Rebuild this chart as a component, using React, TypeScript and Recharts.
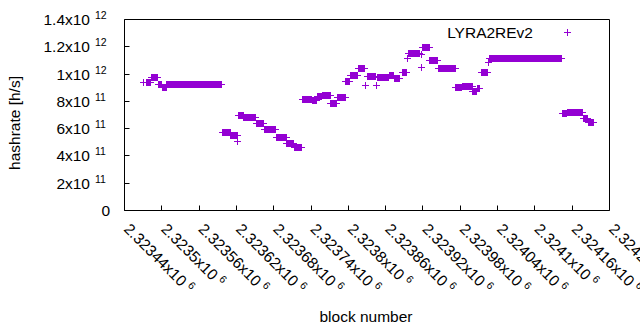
import { ComposedChart, Legend, Line, Scatter, XAxis, YAxis } from "recharts";

const COLOR = "#9400d3";
const FONT = "'Liberation Sans', Arial, Helvetica, sans-serif";

// x axis: block numbers
const xTicks = [
  2323440, 2323500, 2323560, 2323620, 2323680, 2323740, 2323800, 2323860,
  2323920, 2323980, 2324040, 2324100, 2324160, 2324220,
];
const xTickLabels = [
  "2.32344", "2.3235", "2.32356", "2.32362", "2.32368", "2.32374", "2.3238",
  "2.32386", "2.32392", "2.32398", "2.32404", "2.3241", "2.32416", "2.32422",
];

// y axis: hashrate
const yTicks = [0, 2e11, 4e11, 6e11, 8e11, 1e12, 1.2e12, 1.4e12];
const yTickMantissa = ["0", "2x10", "4x10", "6x10", "8x10", "1x10", "1.2x10", "1.4x10"];
const yTickExp = ["", "11", "11", "11", "11", "12", "12", "12"];

// runs of blocks with the same estimated hashrate: [first block, last block, h/s]
const runs: [number, number, number][] = [
  [2323471, 2323471, 936e9],
  [2323475, 2323482, 940e9],
  [2323483, 2323493, 978e9],
  [2323494, 2323500, 924e9],
  [2323501, 2323507, 903e9],
  [2323508, 2323596, 926e9],
  [2323597, 2323610, 573e9],
  [2323611, 2323621, 551e9],
  [2323622, 2323622, 506e9],
  [2323623, 2323631, 694e9],
  [2323632, 2323651, 681e9],
  [2323652, 2323664, 640e9],
  [2323665, 2323683, 596e9],
  [2323684, 2323700, 538e9],
  [2323701, 2323712, 491e9],
  [2323713, 2323725, 465e9],
  [2323726, 2323741, 812e9],
  [2323742, 2323749, 808e9],
  [2323750, 2323757, 833e9],
  [2323758, 2323771, 845e9],
  [2323772, 2323781, 782e9],
  [2323782, 2323795, 826e9],
  [2323796, 2323802, 943e9],
  [2323803, 2323815, 990e9],
  [2323816, 2323826, 1038e9],
  [2323827, 2323827, 917e9],
  [2323831, 2323844, 979e9],
  [2323845, 2323845, 917e9],
  [2323847, 2323865, 972e9],
  [2323866, 2323873, 990e9],
  [2323874, 2323882, 968e9],
  [2323887, 2323894, 1012e9],
  [2323895, 2323895, 1114e9],
  [2323896, 2323914, 1154e9],
  [2323918, 2323918, 1144e9],
  [2323918, 2323918, 1050e9],
  [2323919, 2323930, 1198e9],
  [2323931, 2323943, 1103e9],
  [2323945, 2323972, 1038e9],
  [2323973, 2323982, 899e9],
  [2323983, 2323999, 906e9],
  [2324000, 2324006, 873e9],
  [2324007, 2324011, 891e9],
  [2324014, 2324024, 1008e9],
  [2324025, 2324025, 1085e9],
  [2324027, 2324143, 1114e9],
  [2324144, 2324151, 709e9],
  [2324152, 2324177, 717e9],
  [2324178, 2324185, 676e9],
  [2324186, 2324194, 647e9],
];

// thick bars between run ends, broken by nulls
const barData = runs.flatMap(([a, b, v]) => [
  { b: a, v },
  { b: b, v },
  { b: b, v: null },
]);
// crosses at each run end
const pointData = runs.flatMap(([a, b, v]) =>
  a === b ? [{ b: a, v }] : [{ b: a, v }, { b: b, v }]
);

const crisp = (n: number) => Math.round(n - 0.5) + 0.5;

function crossPath(cx: number, cy: number) {
  const x = crisp(cx);
  const y = crisp(cy);
  return `M${x - 3.5},${y}H${x + 3.5}M${x},${y - 3.5}V${y + 3.5}`;
}

// eslint-disable-next-line @typescript-eslint/no-explicit-any
function Cross({ cx, cy }: any) {
  if (cx == null || cy == null) return null;
  return <path d={crossPath(cx, cy)} stroke={COLOR} strokeWidth={1} fill="none" />;
}

// eslint-disable-next-line @typescript-eslint/no-explicit-any
function BottomTick({ x, y, payload }: any) {
  const i = xTicks.indexOf(payload.value);
  const px = crisp(x);
  return (
    <g>
      <line x1={px} x2={px} y1={y} y2={y - 5} stroke="#000" />
      <g transform={`translate(${x - 1.5},${y + 19.5}) rotate(45)`}>
        <text x={0} y={0} fontSize={15.5} fontFamily={FONT} fill="#000">
          {xTickLabels[i]}x10
          <tspan dx={4} dy={-6} fontSize={10.5}>
            6
          </tspan>
        </text>
      </g>
    </g>
  );
}

// eslint-disable-next-line @typescript-eslint/no-explicit-any
function TopTick({ x, y }: any) {
  const px = crisp(x);
  return <line x1={px} x2={px} y1={y} y2={y + 5} stroke="#000" />;
}

// eslint-disable-next-line @typescript-eslint/no-explicit-any
function LeftTick({ x, y, payload }: any) {
  const i = yTicks.indexOf(payload.value);
  const py = crisp(y);
  return (
    <g>
      <line x1={x} x2={x + 5} y1={py} y2={py} stroke="#000" />
      {yTickExp[i] ? (
        <>
          <text x={x - 34.5} y={y + 5.5} textAnchor="end" fontSize={15.5} fontFamily={FONT} fill="#000">
            {yTickMantissa[i]}
          </text>
          <text x={x - 29.5} y={y - 0.5} textAnchor="start" fontSize={10.5} fontFamily={FONT} fill="#000">
            {yTickExp[i]}
          </text>
        </>
      ) : (
        <text x={x - 14.5} y={y + 5.5} textAnchor="end" fontSize={15.5} fontFamily={FONT} fill="#000">
          {yTickMantissa[i]}
        </text>
      )}
    </g>
  );
}

// eslint-disable-next-line @typescript-eslint/no-explicit-any
function RightTick({ x, y }: any) {
  const py = crisp(y);
  return <line x1={x} x2={x - 5} y1={py} y2={py} stroke="#000" />;
}

function KeyBox() {
  return (
    <svg width={150} height={26}>
      <text x={103} y={18} textAnchor="end" fontSize={15.5} fontFamily={FONT} fill="#000">
        LYRA2REv2
      </text>
      <path d={crossPath(137, 12.5)} stroke={COLOR} strokeWidth={1} fill="none" />
    </svg>
  );
}

const axisLine = { stroke: "#000", strokeWidth: 1 };

export default function App() {
  return (
    <div style={{ position: "absolute", left: 0, top: 0, background: "#fff" }}>
      <ComposedChart width={640} height={330} margin={{ top: 0, right: 0, bottom: 0, left: 0 }}>
        <XAxis
          dataKey="b"
          type="number"
          domain={[2323440, 2324220]}
          ticks={xTicks}
          interval={0}
          height={119.5}
          tickSize={0}
          tickMargin={0}
          tickLine={false}
          axisLine={axisLine}
          tick={<BottomTick />}
          label={{
            content: () => (
              <text x={366} y={321.5} textAnchor="middle" fontSize={15.5} fontFamily={FONT} fill="#000">
                block number
              </text>
            ),
          }}
        />
        <XAxis
          xAxisId="top"
          orientation="top"
          dataKey="b"
          type="number"
          domain={[2323440, 2324220]}
          ticks={xTicks}
          interval={0}
          height={19.5}
          tickSize={0}
          tickMargin={0}
          tickLine={false}
          axisLine={axisLine}
          tick={<TopTick />}
        />
        <YAxis
          dataKey="v"
          type="number"
          domain={[0, 1.4e12]}
          ticks={yTicks}
          interval={0}
          width={124.5}
          tickSize={0}
          tickMargin={0}
          tickLine={false}
          axisLine={axisLine}
          tick={<LeftTick />}
          label={{
            content: () => (
              <text
                x={20}
                y={123}
                transform="rotate(-90 20 123)"
                textAnchor="middle"
                fontSize={15.5}
                fontFamily={FONT}
                fill="#000"
              >
                hashrate [h/s]
              </text>
            ),
          }}
        />
        <YAxis
          yAxisId="right"
          orientation="right"
          type="number"
          domain={[0, 1.4e12]}
          ticks={yTicks}
          interval={0}
          width={30.5}
          tickSize={0}
          tickMargin={0}
          tickLine={false}
          axisLine={axisLine}
          tick={<RightTick />}
        />
        <Legend
          layout="horizontal"
          verticalAlign="middle"
          align="center"
          wrapperStyle={{ position: "absolute", left: 430, top: 20, width: 150, height: 26 }}
          content={() => <KeyBox />}
        />
        <Line
          data={barData}
          dataKey="v"
          type="linear"
          stroke={COLOR}
          strokeWidth={7}
          strokeLinecap="butt"
          shapeRendering="crispEdges"
          dot={false}
          activeDot={false}
          connectNulls={false}
          isAnimationActive={false}
          legendType="none"
        />
        <Scatter
          data={pointData}
          dataKey="v"
          fill={COLOR}
          shape={<Cross />}
          isAnimationActive={false}
          legendType="none"
        />
      </ComposedChart>
    </div>
  );
}
